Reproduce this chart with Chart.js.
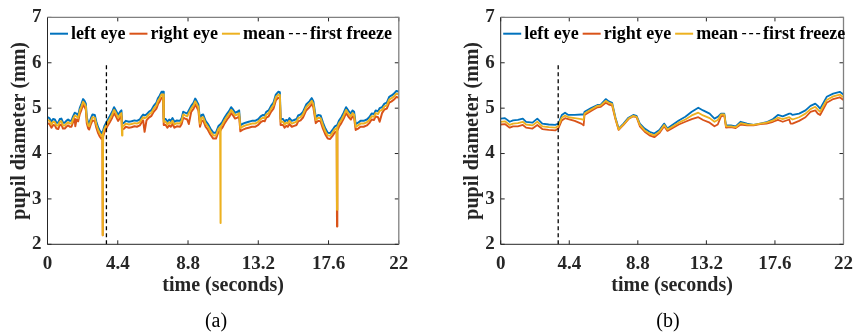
<!DOCTYPE html>
<html><head><meta charset="utf-8">
<script src="https://cdn.jsdelivr.net/npm/chart.js@4/dist/chart.umd.min.js"></script>
<style>
html,body{margin:0;padding:0;background:#fff;}
body{width:861px;height:333px;overflow:hidden;position:relative;}
canvas{position:absolute;top:0;}
.sub{position:absolute;top:308px;font-family:"Liberation Serif",serif;font-size:20px;color:#000;width:60px;text-align:center;line-height:24px;}
</style></head><body>
<canvas id="ca" width="430" height="333" style="left:0"></canvas>
<canvas id="cb" width="431" height="333" style="left:430px"></canvas>
<div class="sub" style="left:186px">(a)</div>
<div class="sub" style="left:638px">(b)</div>
<script>
// ---------- data ----------
const seriesNames = ['left eye', 'right eye', 'mean', 'first freeze'];
const xTicks = [0, 4.4, 8.8, 13.2, 17.6, 22];
const xTickLabels = ['0', '4.4', '8.8', '13.2', '17.6', '22'];
const yTicks = [2, 3, 4, 5, 6, 7];
const freezeTime = 3.69;
const freezeRange = [2, 6];

// panel (a)
const timeA = [0.00,0.12,0.25,0.35,0.46,0.56,0.67,0.77,0.87,0.97,1.08,1.18,1.29,1.40,1.50,1.60,1.71,1.74,1.82,1.92,
2.02,2.13,2.23,2.32,2.40,2.46,2.55,2.61,2.72,2.82,2.96,3.06,3.17,3.28,3.38,3.44,3.46,3.48,3.56,3.65,
3.78,3.90,4.05,4.17,4.30,4.42,4.55,4.63,4.67,4.69,4.80,4.90,5.10,5.26,5.45,5.60,5.78,5.90,5.99,6.08,
6.20,6.35,6.51,6.65,6.82,6.92,7.03,7.14,7.24,7.28,7.40,7.51,7.62,7.72,7.83,7.95,8.10,8.30,8.40,8.50,
8.62,8.75,8.85,9.00,9.15,9.25,9.35,9.45,9.55,9.65,9.75,9.90,10.05,10.20,10.38,10.55,10.70,10.81,10.83,10.85,
10.95,11.10,11.25,11.40,11.50,11.60,11.75,11.90,12.00,12.08,12.20,12.40,12.60,12.80,13.00,13.20,13.35,13.50,13.60,13.70,
13.85,14.00,14.15,14.30,14.45,14.55,14.60,14.75,14.85,14.95,15.05,15.15,15.30,15.45,15.60,15.70,15.85,16.00,16.20,16.40,
16.55,16.65,16.80,16.95,17.10,17.25,17.40,17.55,17.70,17.85,18.00,18.11,18.13,18.15,18.25,18.40,18.55,18.70,18.85,19.00,
19.10,19.20,19.30,19.45,19.60,19.80,20.00,20.15,20.30,20.45,20.55,20.70,20.80,20.95,21.10,21.25,21.40,21.55,21.70,21.85,22.00];
const leftA = [4.80,4.78,4.70,4.76,4.75,4.68,4.68,4.76,4.77,4.68,4.68,4.72,4.75,4.72,4.72,4.82,4.90,4.89,4.88,4.84,
5.00,5.10,5.20,5.16,5.10,4.80,4.68,4.66,4.78,4.86,4.85,4.70,4.58,4.50,4.45,4.48,4.48,4.50,4.60,4.66,
4.75,4.82,4.92,5.02,4.94,4.85,4.92,4.95,4.66,4.66,4.68,4.72,4.70,4.71,4.73,4.72,4.75,4.82,4.86,4.84,
4.86,4.92,4.96,5.05,5.12,5.22,5.28,5.36,5.36,4.76,4.76,4.70,4.75,4.72,4.78,4.70,4.73,4.72,4.78,4.92,
4.90,4.88,4.95,5.05,5.12,5.21,5.15,5.08,4.72,4.85,4.86,4.72,4.65,4.55,4.46,4.46,4.60,4.64,4.64,4.65,
4.70,4.80,4.88,4.95,5.02,4.98,4.90,4.92,4.95,4.62,4.65,4.68,4.70,4.72,4.72,4.76,4.82,4.85,4.84,4.92,
4.95,5.05,5.12,5.30,5.36,5.35,4.76,4.76,4.70,4.74,4.72,4.78,4.72,4.74,4.76,4.84,4.86,4.92,5.08,5.15,
5.22,5.15,4.80,4.85,4.84,4.68,4.55,4.46,4.45,4.52,4.60,4.62,4.62,4.63,4.72,4.80,4.90,5.02,4.94,4.88,
4.95,4.92,4.65,4.68,4.72,4.72,4.75,4.80,4.88,4.87,4.95,4.93,5.00,5.02,5.10,5.12,5.25,5.28,5.32,5.38,5.36];
const rightA = [4.67,4.65,4.57,4.63,4.62,4.55,4.54,4.63,4.64,4.55,4.55,4.59,4.62,4.59,4.59,4.69,4.77,4.60,4.75,4.71,
4.87,4.97,5.07,5.03,4.97,4.67,4.55,4.53,4.65,4.73,4.72,4.57,4.45,4.37,4.32,4.35,2.20,4.37,4.47,4.53,
4.62,4.69,4.79,4.89,4.81,4.72,4.79,4.82,4.53,4.53,4.55,4.59,4.57,4.58,4.60,4.59,4.62,4.69,4.73,4.48,
4.73,4.79,4.83,4.92,4.99,5.09,5.15,5.23,5.23,4.63,4.63,4.57,4.62,4.59,4.65,4.57,4.60,4.59,4.65,4.79,
4.77,4.75,4.65,4.92,4.99,5.08,5.02,4.95,4.59,4.72,4.73,4.59,4.52,4.42,4.33,4.33,4.47,4.51,4.51,4.52,
4.57,4.67,4.75,4.82,4.89,4.85,4.77,4.79,4.82,4.49,4.52,4.55,4.57,4.59,4.59,4.63,4.69,4.72,4.71,4.79,
4.82,4.92,4.99,5.17,5.23,5.22,4.63,4.63,4.57,4.61,4.59,4.65,4.59,4.61,4.63,4.71,4.73,4.79,4.95,5.02,
5.09,5.02,4.67,4.72,4.71,4.55,4.42,4.33,4.32,4.39,4.47,4.49,2.39,4.50,4.59,4.67,4.77,4.89,4.81,4.75,
4.82,4.79,4.52,4.55,4.59,4.59,4.62,4.67,4.75,4.74,4.82,4.80,4.70,4.89,4.97,4.99,5.12,5.15,5.19,5.25,5.23];
const meanA = [4.74,4.72,4.64,4.70,4.69,4.62,4.62,4.70,4.71,4.62,4.62,4.66,4.69,4.66,4.66,4.76,4.84,4.83,4.82,4.78,
4.94,5.04,5.14,5.10,5.04,4.74,4.62,4.60,4.72,4.80,4.79,4.64,4.52,4.44,4.39,4.42,2.20,4.44,4.54,4.60,
4.69,4.76,4.86,4.96,4.88,4.79,4.86,4.89,4.40,4.60,4.62,4.66,4.64,4.65,4.67,4.66,4.69,4.76,4.80,4.78,
4.80,4.86,4.90,4.99,5.06,5.16,5.22,5.30,5.30,4.70,4.70,4.64,4.69,4.66,4.72,4.64,4.67,4.66,4.72,4.86,
4.84,4.82,4.89,4.99,5.06,5.15,5.09,5.02,4.66,4.79,4.80,4.66,4.59,4.49,4.40,4.40,4.54,4.58,2.47,4.59,
4.64,4.74,4.82,4.89,4.96,4.92,4.84,4.86,4.89,4.56,4.59,4.62,4.64,4.66,4.66,4.70,4.76,4.79,4.78,4.86,
4.89,4.99,5.06,5.24,5.30,5.29,4.70,4.70,4.64,4.68,4.66,4.72,4.66,4.68,4.70,4.78,4.80,4.86,5.02,5.09,
5.16,5.09,4.74,4.79,4.78,4.62,4.49,4.40,4.39,4.46,4.54,4.56,2.76,4.57,4.66,4.74,4.84,4.96,4.88,4.82,
4.89,4.86,4.59,4.62,4.66,4.66,4.69,4.74,4.82,4.81,4.89,4.87,4.94,4.96,5.04,5.06,5.19,5.22,5.26,5.32,5.30];

// panel (b)
const timeB = [0.00,0.27,0.58,0.79,1.10,1.42,1.63,2.04,2.35,2.67,3.08,3.50,3.71,3.92,4.13,4.34,4.75,5.17,5.32,5.38,
5.80,6.21,6.42,6.74,6.94,7.15,7.36,7.57,7.88,8.20,8.51,8.72,8.93,9.24,9.55,9.86,10.18,10.49,10.70,11.01,
11.43,11.85,12.26,12.68,12.99,13.41,13.72,13.93,14.14,14.35,14.46,14.77,15.08,15.40,15.81,16.23,16.65,17.06,17.48,17.79,
18.10,18.52,18.60,18.73,19.15,19.56,19.88,20.19,20.35,20.50,20.92,21.34,21.76,22.00];
const leftB = [4.77,4.78,4.70,4.73,4.74,4.77,4.70,4.68,4.77,4.66,4.64,4.63,4.66,4.85,4.90,4.85,4.85,4.86,4.86,4.92,
5.00,5.07,5.08,5.20,5.15,5.12,4.80,4.55,4.66,4.79,4.85,4.83,4.66,4.55,4.48,4.44,4.52,4.66,4.55,4.63,
4.73,4.81,4.92,5.01,4.95,4.88,4.77,4.81,4.88,4.88,4.62,4.62,4.60,4.70,4.66,4.63,4.66,4.69,4.76,4.85,
4.82,4.88,4.88,4.85,4.88,4.95,5.05,5.10,5.05,4.99,5.25,5.32,5.36,5.30];
const rightB = [4.64,4.65,4.57,4.60,4.60,4.63,4.57,4.55,4.63,4.54,4.52,4.51,4.56,4.73,4.78,4.76,4.72,4.66,4.62,4.85,
4.94,5.02,5.03,5.12,5.08,5.06,4.76,4.52,4.63,4.76,4.82,4.80,4.60,4.48,4.40,4.36,4.45,4.60,4.50,4.56,
4.64,4.70,4.76,4.80,4.74,4.68,4.60,4.64,4.82,4.84,4.57,4.58,4.56,4.64,4.62,4.62,4.65,4.66,4.70,4.74,
4.70,4.75,4.66,4.66,4.72,4.80,4.92,4.95,4.88,4.85,5.12,5.20,5.24,5.18];
const meanB = [4.70,4.71,4.63,4.66,4.67,4.70,4.64,4.62,4.70,4.60,4.58,4.57,4.61,4.79,4.84,4.80,4.78,4.76,4.74,4.88,
4.97,5.05,5.06,5.16,5.12,5.09,4.78,4.53,4.64,4.77,4.83,4.81,4.63,4.51,4.44,4.40,4.48,4.63,4.53,4.59,
4.68,4.75,4.84,4.90,4.84,4.78,4.70,4.74,4.86,4.86,4.60,4.60,4.58,4.67,4.64,4.63,4.66,4.68,4.73,4.79,
4.76,4.80,4.78,4.75,4.80,4.88,4.98,5.03,4.97,4.92,5.18,5.26,5.30,5.24];

// ---------- drawing ----------
const colors = ['#0072BD', '#D95319', '#EDB120', '#000000'];
const FONT = '"Liberation Serif", "Times New Roman", serif';

const pts = (t, v) => t.map((x, i) => ({x: x, y: v[i]}));

const axesBox = {
  id: 'axesBox',
  afterDatasetsDraw(chart) {
    const {ctx, chartArea: a, scales: {x, y}} = chart;
    const tl = 4;
    ctx.save();
    ctx.lineWidth = 1;
    ctx.strokeStyle = '#262626';
    ctx.beginPath();
    x.ticks.forEach(t => {
      const px = x.getPixelForValue(t.value);
      ctx.moveTo(px, a.bottom); ctx.lineTo(px, a.bottom - tl);
      ctx.moveTo(px, a.top); ctx.lineTo(px, a.top + tl);
    });
    y.ticks.forEach(t => {
      const py = y.getPixelForValue(t.value);
      ctx.moveTo(a.left, py); ctx.lineTo(a.left + tl, py);
      ctx.moveTo(a.right, py); ctx.lineTo(a.right - tl, py);
    });
    ctx.moveTo(a.left, a.top); ctx.lineTo(a.left, a.bottom); ctx.lineTo(a.right, a.bottom);
    ctx.stroke();
    ctx.strokeStyle = '#808080';
    ctx.lineWidth = 1.3;
    ctx.beginPath();
    ctx.moveTo(a.left, a.top); ctx.lineTo(a.right, a.top); ctx.lineTo(a.right, a.bottom);
    ctx.stroke();
    ctx.restore();
  }
};

// in-axes legend, one row, drawn from the chart's own datasets
const rowLegend = {
  id: 'rowLegend',
  afterDraw(chart) {
    const {ctx, chartArea: a} = chart;
    ctx.save();
    ctx.font = 'bold 18px ' + FONT;
    ctx.textBaseline = 'alphabetic';
    ctx.textAlign = 'left';
    let x = a.left + 2.5;
    const y = a.top + 16.3;
    chart.data.datasets.forEach(d => {
      ctx.strokeStyle = d.borderColor;
      ctx.lineWidth = d.borderDash ? 1.3 : 2;
      ctx.setLineDash(d.borderDash || []);
      ctx.beginPath(); ctx.moveTo(x, y); ctx.lineTo(x + 18, y); ctx.stroke();
      x += 21;
      ctx.fillStyle = '#000';
      ctx.fillText(d.label, x, y + 5.7);
      x += ctx.measureText(d.label).width + 4;
    });
    ctx.restore();
  }
};

function makeChart(id, t, l, r, m, padLeft, padRight, lw) {
  // order: higher value is drawn first (underneath), so the mean and the freeze line sit on top
  const ds = [
    {label: seriesNames[0], data: pts(t, l), borderColor: colors[0], borderWidth: lw, order: 4},
    {label: seriesNames[1], data: pts(t, r), borderColor: colors[1], borderWidth: lw, order: 3},
    {label: seriesNames[2], data: pts(t, m), borderColor: colors[2], borderWidth: lw, order: 2},
    {label: seriesNames[3], data: pts([freezeTime, freezeTime], freezeRange), borderColor: colors[3], borderWidth: 1.3, borderDash: [4, 3], order: 1}
  ];
  ds.forEach(d => { d.pointRadius = 0; d.tension = 0; d.fill = false; d.backgroundColor = d.borderColor; d.borderJoinStyle = 'round'; });
  return new Chart(document.getElementById(id), {
    type: 'line',
    data: {datasets: ds},
    plugins: [axesBox, rowLegend],
    options: {
      responsive: false, animation: false, devicePixelRatio: 1,
      events: [],
      layout: {padding: {left: padLeft, right: padRight, top: 17, bottom: 35}},
      plugins: {
        tooltip: {enabled: false},
        legend: {display: false}
      },
      scales: {
        x: {
          type: 'linear', min: 0, max: 22,
          afterBuildTicks: s => { s.ticks = xTicks.map(v => ({value: v})); },
          afterFit: s => { s.height = 53.7; },
          grid: {display: false, drawTicks: false},
          border: {display: false},
          ticks: {
            padding: 8, color: '#262626', maxRotation: 0, autoSkip: false,
            font: {family: FONT, size: 19, weight: 'bold'},
            callback: v => xTickLabels[xTicks.indexOf(v)]
          },
          title: {display: true, text: 'time (seconds)', color: '#262626', padding: 0,
                  font: {family: FONT, size: 20, weight: 'bold'}}
        },
        y: {
          type: 'linear', min: 2, max: 7,
          afterBuildTicks: s => { s.ticks = yTicks.map(v => ({value: v})); },
          afterFit: s => { s.width = 47.5; },
          grid: {display: false, drawTicks: false},
          border: {display: false},
          ticks: {
            padding: 6, color: '#262626',
            font: {family: FONT, size: 19, weight: 'bold'},
            callback: v => String(v)
          },
          title: {display: true, text: 'pupil diameter (mm)', color: '#262626', padding: {top: 8, bottom: 0},
                  font: {family: FONT, size: 20, weight: 'bold'}}
        }
      }
    }
  });
}

makeChart('ca', timeA, leftA, rightA, meanA, 0, 31.2, 2);
makeChart('cb', timeB, leftB, rightB, meanB, 23.2, 8.7, 1.8);
</script>
</body></html>
